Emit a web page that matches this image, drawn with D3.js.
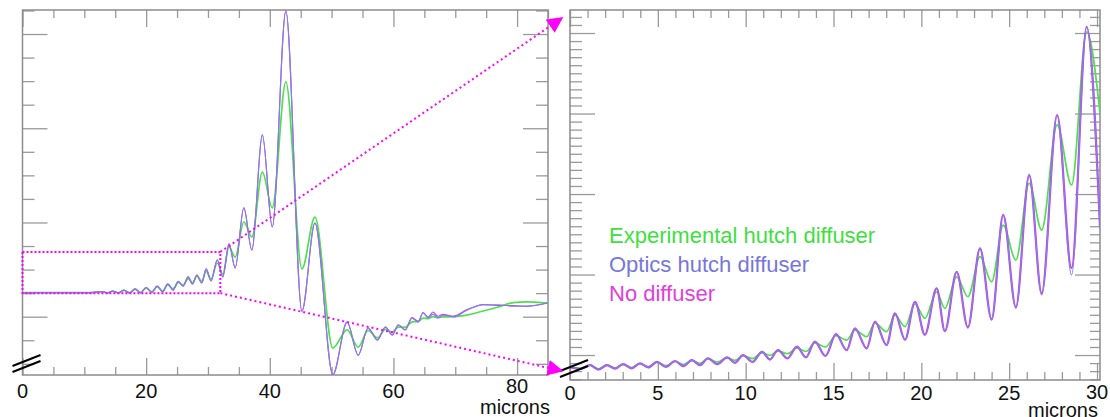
<!DOCTYPE html>
<html>
<head>
<meta charset="utf-8">
<script src="https://cdn.jsdelivr.net/npm/d3@7"></script>
<style>
  body { margin: 0; background: #fff; }
  svg { display: block; font-family: "Liberation Sans", Arial, Helvetica, sans-serif; }
  .frame { fill: none; stroke: #8c8c8c; stroke-width: 1.5; }
  .tick line { stroke: #9a9a9a; stroke-width: 1.3; }
  .domain { display: none; }
  .curve { fill: none; stroke-linejoin: round; }
  .tick-label { font-size: 20px; fill: #111; text-anchor: middle; }
  .legend { font-size: 22px; }
</style>
</head>
<body>
<svg id="chart" width="1110" height="417"></svg>
<script>
//LEFT PANEL DATA (microns, intensity change in % of flat level)
var leftMicrons = [0, 6.1, 9.3, 10.9, 12.9, 13.75, 14.6, 15.5, 16.4, 17.3, 18.2, 19.1, 20.0, 20.9, 21.8, 22.65,
  23.5, 24.35, 25.2, 25.97, 26.8, 27.5, 28.2, 29.0, 29.7, 30.5, 31.5, 32.4, 33.4, 34.4, 35.8, 37.1,
  38.8, 40.4, 42.6, 45.2, 47.3, 50.2, 52.5, 54.3, 55.9, 57.4, 58.7, 59.8, 60.8, 61.9, 63.0, 64.0,
  64.8, 65.6, 66.4, 67.2, 68.0, 69.7, 71.9, 74.5, 76.8, 79.4, 81.6, 84.9];
var leftExperimental = [0.2, 0.2, 0.2, 0.2, 0.6, 0.1, 0.8, 0.1, 1.2, 0.2, 1.6, 0.3, 2.2, 0.6, 2.8, 0.9,
  3.6, 1.8, 4.6, 3.4, 6.2, 4.4, 7.2, 5.0, 9.3, 6.0, 12.8, 8.1, 19.6, 15.3, 30.2, 23.8,
  51.4, 36.2, 89.7, 10.3, 32.3, -23.3, -15.6, -22.9, -15.8, -19.0, -15.4, -16.5, -14.4, -14.5, -12.2, -12.0,
  -10.6, -10.8, -10.0, -10.4, -10.1, -10.0, -9.3, -7.6, -6.0, -4.0, -3.7, -4.2];
var leftOptics = [0.2, 0.2, 0.2, 0.2, 0.7, 0.06, 0.9, 0.06, 1.3, 0.06, 1.8, 0.06, 2.4, 0.3, 3.0, 0.5,
  3.9, 1.3, 5.0, 3.0, 6.9, 3.9, 7.7, 4.3, 10.3, 5.2, 14.1, 6.9, 20.9, 10.7, 36.2, 18.3,
  67.2, 28.1, 119.8, -7.7, 29.8, -34.6, -12.3, -26.3, -14.8, -19.9, -14.4, -17.8, -13.5, -15.6, -10.6, -12.3,
  -8.4, -10.5, -8.9, -10.5, -9.3, -10.1, -7.2, -5.0, -5.0, -5.5, -5.5, -4.2];
var leftNone = [0.2, 0.2, 0.2, 0.2, 0.7, 0.06, 0.9, 0.06, 1.3, 0.06, 1.8, 0.06, 2.4, 0.3, 3.0, 0.5,
  3.9, 1.3, 5.0, 3.0, 6.9, 3.9, 7.7, 4.3, 10.3, 5.2, 14.1, 6.9, 20.9, 10.7, 36.2, 18.3,
  67.2, 28.1, 119.8, -7.7, 29.8, -34.6, -12.3, -26.3, -14.8, -19.9, -14.4, -17.8, -13.5, -15.6, -10.4, -12.0,
  -8.2, -10.2, -8.0, -9.8, -9.0, -9.8, -7.0, -4.8, -5.2, -5.3, -5.6, -4.2];

//RIGHT PANEL DATA (zoomed region, intensity change in %)
var rightMicrons = [0, 0.6, 1.14, 1.62, 2.11, 2.56, 3.02, 3.5, 3.98, 4.47, 4.95, 5.46, 5.98, 6.46, 6.94, 7.4,
  7.85, 8.39, 8.94, 9.39, 9.85, 10.39, 10.93, 11.38, 11.84, 12.38, 12.92, 13.43, 13.94, 14.54, 15.14, 15.75,
  16.22, 16.89, 17.36, 18.02, 18.5, 19.07, 19.64, 20.2, 20.87, 21.34, 22.01, 22.65, 23.34, 24.0, 24.66, 25.38,
  26.14, 26.85, 27.73, 28.55, 29.41, 30.17];
var rightExperimental = [-0.75, -0.82, -0.63, -0.85, -0.63, -0.8, -0.58, -0.78, -0.54, -0.72, -0.45, -0.66, -0.4, -0.6, -0.33, -0.52,
  -0.24, -0.44, -0.17, -0.33, -0.04, -0.22, 0.15, -0.02, 0.25, 0.08, 0.45, 0.22, 0.75, 0.5, 1.2, 0.93,
  1.55, 1.14, 1.99, 1.45, 2.48, 1.76, 3.17, 2.28, 3.93, 2.9, 4.86, 3.62, 6.11, 4.55, 8.07, 5.9,
  10.66, 7.76, 14.29, 10.56, 20.08, 15.03];
var rightOptics = [-0.75, -0.85, -0.62, -0.89, -0.62, -0.83, -0.56, -0.83, -0.52, -0.76, -0.42, -0.73, -0.37, -0.68, -0.31, -0.62,
  -0.2, -0.56, -0.14, -0.48, 0, -0.42, 0.2, -0.27, 0.31, -0.2, 0.52, -0.14, 0.83, -0.06, 1.3, 0.31,
  1.66, 0.42, 2.07, 0.62, 2.59, 0.93, 3.31, 1.24, 4.14, 1.45, 5.17, 1.68, 6.63, 2.17, 8.7, 2.9,
  11.18, 3.73, 14.91, 4.97, 20.39, 7.8];
var rightNone = [-0.75, -0.86, -0.62, -0.9, -0.62, -0.84, -0.56, -0.83, -0.52, -0.77, -0.42, -0.74, -0.37, -0.69, -0.31, -0.63,
  -0.2, -0.57, -0.14, -0.49, 0, -0.43, 0.2, -0.28, 0.31, -0.21, 0.52, -0.15, 0.83, -0.06, 1.3, 0.3,
  1.66, 0.42, 2.07, 0.62, 2.59, 0.95, 3.31, 1.26, 4.14, 1.48, 5.17, 1.72, 6.63, 2.22, 8.7, 2.98,
  11.18, 3.83, 14.91, 5.39, 20.39, 7.95];

//tick values and labels
var leftXTicks = d3.range(0, 86, 5),
    leftXLabels = [0, 20, 40, 60, 80],
    leftYTicks = d3.range(-30, 121, 10),
    leftYMajor = [-10, 30, 70, 110];
var rightXTicks = d3.range(0, 31, 1),
    rightXLabels = [0, 5, 10, 15, 20, 25, 30],
    rightYTicks = d3.range(-1.5, 21.01, 0.5),
    rightYMajor = [0, 5, 10, 15, 20];

//zoomed region of the left panel (microns, %)
var zoomRegion = [0, 32, 0, 17.5];

//legend entries with colours
var series = [
  {name: 'Experimental hutch diffuser', color: '#4fe04f', legend: '#3ee03e'},
  {name: 'Optics hutch diffuser', color: '#7f80e8', legend: '#7676dc'},
  {name: 'No diffuser', color: '#cc3ee6', legend: '#e03ee0'}
];

var svg = d3.select("#chart");

//draws one panel frame, ticks and curves
function drawPanel(p) {
  var x = d3.scaleLinear().domain(p.xDomain).range([p.left, p.right]),
      y = d3.scaleLinear().domain(p.yDomain).range([p.bottom, p.top]);

  var g = svg.append("g");

  //clip curves to the frame
  g.append("clipPath").attr("id", p.id + "-clip")
    .append("rect")
      .attr("x", p.left).attr("y", p.top - 1)
      .attr("width", p.right - p.left).attr("height", p.bottom - p.top + 1);

  //minor and major ticks on all four sides, pointing inward
  function ticks(axis, pos, values, size, horizontal) {
    g.append("g")
      .attr("transform", horizontal ? "translate(0," + pos + ")" : "translate(" + pos + ",0)")
      .call(axis.tickValues(values).tickSize(-size).tickFormat(""));
  }
  var xMinor = p.xTicks.filter(function(v) { return p.xMajor.indexOf(v) < 0; }),
      yMinor = p.yTicks.filter(function(v) { return !p.yMajor.some(function(m) { return Math.abs(m - v) < 1e-6; }); });

  ticks(d3.axisBottom(x), p.bottom, xMinor, 8, true);
  ticks(d3.axisBottom(x), p.bottom, p.xMajor, 17, true);
  ticks(d3.axisTop(x), p.top, xMinor, 8, true);
  ticks(d3.axisTop(x), p.top, p.xMajor, 17, true);
  ticks(d3.axisLeft(y), p.left, yMinor, 12, false);
  ticks(d3.axisLeft(y), p.left, p.yMajor, 25, false);
  ticks(d3.axisRight(y), p.right, yMinor, p.rightMinor, false);
  ticks(d3.axisRight(y), p.right, p.yMajor, 25, false);

  g.append("rect").attr("class", "frame")
    .attr("x", p.left).attr("y", p.top)
    .attr("width", p.right - p.left).attr("height", p.bottom - p.top);

  //tick labels
  g.selectAll(".tick-label")
    .data(p.xMajor)
    .enter().append("text")
      .attr("class", "tick-label")
      .attr("x", function(d) { return x(d); })
      .attr("y", function(d, i) { return p.bottom + p.labelDy - (i == p.xMajor.length - 1 ? p.lastLift : 0); })
      .text(function(d) { return d; });

  g.append("text")
    .attr("class", "tick-label")
    .style("text-anchor", "end")
    .attr("x", p.right + p.unitDx)
    .attr("y", p.bottom + p.unitDy)
    .text("microns");

  //curves, drawn green, magenta, then blue on top
  var line = d3.line()
    .x(function(d) { return x(d[0]); })
    .y(function(d) { return y(d[1]); })
    .curve(d3.curveMonotoneX);

  var order = [
    {vals: p.series[0], color: series[0].color, w: 1.7},
    {vals: p.series[2], color: series[2].color, w: p.noneWidth},
    {vals: p.series[1], color: series[1].color, w: 1.2}
  ];
  g.append("g").attr("clip-path", "url(#" + p.id + "-clip)")
    .selectAll("path")
    .data(order)
    .enter().append("path")
      .attr("class", "curve")
      .attr("stroke", function(d) { return d.color; })
      .attr("stroke-width", function(d) { return d.w; })
      .attr("d", function(d) {
        return line(p.microns.map(function(m, i) { return [m, d.vals[i]]; }));
      });

  //break marks at the lower left corner
  [0, 6].forEach(function(off) {
    g.append("line")
      .attr("x1", p.left - 10).attr("y1", p.bottom - 9 + off)
      .attr("x2", p.left + 18).attr("y2", p.bottom - 20 + off)
      .attr("stroke", "#000").attr("stroke-width", 2);
  });

  return {x: x, y: y};
}

var leftPanel = drawPanel({
  id: "left", left: 22.5, right: 548, top: 10, bottom: 375,
  xDomain: [0, 85], yDomain: [-34.75, 120.2],
  xTicks: leftXTicks, xMajor: leftXLabels, yTicks: leftYTicks, yMajor: leftYMajor,
  rightMinor: 12, labelDy: 23, lastLift: 5, unitDx: 2, unitDy: 39, noneWidth: 1.1,
  microns: leftMicrons, series: [leftExperimental, leftOptics, leftNone]
});

var rightPanel = drawPanel({
  id: "right", left: 570, right: 1100, top: 10, bottom: 380,
  xDomain: [0, 30.17], yDomain: [-1.55, 21.43],
  xTicks: rightXTicks, xMajor: rightXLabels, yTicks: rightYTicks, yMajor: rightYMajor,
  rightMinor: 10, labelDy: 20, lastLift: 1, unitDx: -2, unitDy: 37, noneWidth: 2.2,
  microns: rightMicrons, series: [rightExperimental, rightOptics, rightNone]
});

//legend inside the right panel
svg.selectAll(".legend")
  .data(series)
  .enter().append("text")
    .attr("class", "legend")
    .attr("x", 609)
    .attr("y", function(d, i) { return 243 + i * 29; })
    .attr("fill", function(d) { return d.legend; })
    .text(function(d) { return d.name; });

//zoom box and dotted guide lines
var lx = leftPanel.x, ly = leftPanel.y;

var defs = svg.append("defs");
defs.append("marker")
    .attr("id", "arrow")
    .attr("viewBox", "0 0 10 10")
    .attr("refX", 9).attr("refY", 5)
    .attr("markerWidth", 16).attr("markerHeight", 16)
    .attr("markerUnits", "userSpaceOnUse")
    .attr("orient", "auto")
  .append("path")
    .attr("d", "M0,0 L10,5 L0,10 z")
    .attr("fill", "#ff00ff");

svg.append("rect")
  .attr("x", lx(zoomRegion[0])).attr("y", ly(zoomRegion[3]))
  .attr("width", lx(zoomRegion[1]) - lx(zoomRegion[0]))
  .attr("height", ly(zoomRegion[2]) - ly(zoomRegion[3]))
  .attr("fill", "none").attr("stroke", "#ff00ff")
  .attr("stroke-width", 2).attr("stroke-dasharray", "2,2");

[[zoomRegion[3], rightPanel.y.range()[1] + 8], [zoomRegion[2], rightPanel.y.range()[0] - 9]].forEach(function(pair) {
  svg.append("line")
    .attr("x1", lx(zoomRegion[1])).attr("y1", ly(pair[0]))
    .attr("x2", rightPanel.x.range()[0] - 8).attr("y2", pair[1])
    .attr("stroke", "#ff00ff").attr("stroke-width", 2)
    .attr("stroke-dasharray", "2,3")
    .attr("marker-end", "url(#arrow)");
});
</script>
</body>
</html>
